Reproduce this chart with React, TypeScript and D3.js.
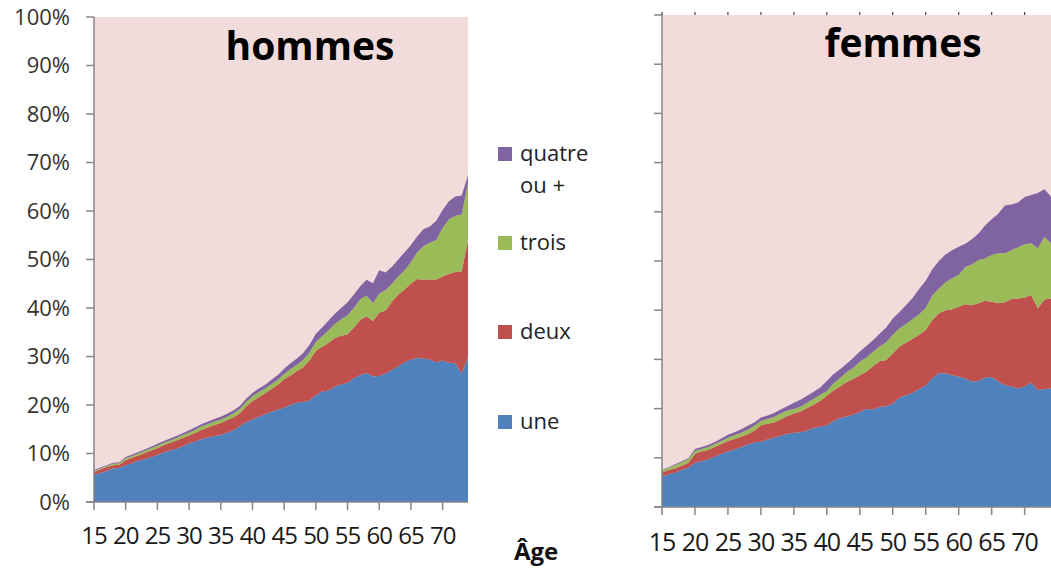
import * as d3 from 'd3'

// ages 15 to 74, one point per year
const ages = d3.range(15, 75)
const tickAges = [15, 20, 25, 30, 35, 40, 45, 50, 55, 60, 65, 70]
const percentTicks = [0, 10, 20, 30, 40, 50, 60, 70, 80, 90, 100]

const seriesKeys = ['une', 'deux', 'trois', 'quatre']
const legendLabels = [['quatre', 'ou +'], ['trois'], ['deux'], ['une']]

// hommes, share of each group in %
const hommesUne = [
  5.6, 6.0, 6.4, 6.9, 7.0, 7.6, 8.0, 8.5, 8.8, 9.3,
  9.7, 10.2, 10.6, 11.0, 11.5, 12.1, 12.5, 13.0, 13.3, 13.6,
  13.8, 14.3, 14.8, 15.6, 16.5, 17.0, 17.6, 18.1, 18.6, 19.0,
  19.5, 20.0, 20.5, 20.6, 21.0, 22.0, 22.8, 23.0, 23.8, 24.3,
  24.6, 25.5, 26.2, 26.6, 25.9, 26.0, 26.5, 27.2, 28.0, 28.8,
  29.4, 29.7, 29.6, 29.4, 28.8, 29.2, 28.7, 28.6, 26.5, 29.8,
]
const hommesDeux = [
  0.6, 0.7, 0.8, 0.7, 0.7, 1.0, 1.1, 1.1, 1.3, 1.3,
  1.4, 1.5, 1.6, 1.7, 1.7, 1.6, 1.8, 1.9, 2.1, 2.3,
  2.5, 2.6, 2.7, 2.7, 3.2, 3.8, 4.0, 4.3, 4.7, 5.2,
  5.8, 6.1, 6.5, 7.2, 8.2, 9.2, 9.2, 9.8, 10.0, 10.0,
  10.0, 10.5, 11.4, 11.7, 11.4, 13.0, 13.0, 14.1, 14.8, 15.0,
  15.6, 16.3, 16.2, 16.5, 17.1, 17.3, 18.3, 18.8, 21.1, 24.2,
]
const hommesTrois = [
  0.2, 0.2, 0.2, 0.3, 0.3, 0.4, 0.4, 0.4, 0.4, 0.5,
  0.5, 0.5, 0.5, 0.5, 0.6, 0.6, 0.6, 0.7, 0.7, 0.7,
  0.7, 0.7, 0.8, 0.9, 0.9, 1.0, 1.1, 1.0, 1.0, 1.0,
  1.1, 1.3, 1.3, 1.5, 1.7, 1.8, 2.2, 2.6, 2.9, 3.4,
  3.9, 4.0, 4.2, 4.3, 3.7, 4.0, 4.2, 3.7, 3.7, 4.0,
  4.5, 5.5, 7.0, 7.6, 8.1, 10.0, 11.3, 11.6, 11.7, 11.8,
]
const hommesQuatre = [
  0.2, 0.2, 0.2, 0.2, 0.2, 0.3, 0.3, 0.3, 0.3, 0.3,
  0.4, 0.4, 0.4, 0.4, 0.4, 0.5, 0.5, 0.5, 0.5, 0.5,
  0.6, 0.6, 0.6, 0.6, 0.7, 0.7, 0.7, 0.8, 0.9, 1.0,
  1.1, 1.2, 1.3, 1.4, 1.5, 1.7, 1.8, 2.0, 2.1, 2.3,
  2.7, 2.8, 2.7, 3.2, 4.1, 4.8, 3.6, 3.5, 3.5, 3.7,
  3.5, 3.3, 3.5, 3.3, 4.0, 3.7, 3.7, 4.0, 3.9, 1.5,
]

// femmes
const femmesUne = [
  6.2, 6.6, 7.0, 7.5, 8.0, 9.0, 9.3, 9.7, 10.2, 10.8,
  11.3, 11.7, 12.2, 12.7, 13.1, 13.3, 13.7, 14.1, 14.5, 14.9,
  15.1, 15.2, 15.5, 16.1, 16.3, 16.6, 17.5, 18.1, 18.4, 18.8,
  19.3, 19.9, 19.8, 20.3, 20.5, 21.0, 22.2, 22.7, 23.2, 24.0,
  24.7, 26.2, 27.2, 27.2, 26.8, 26.5, 26.1, 25.5, 25.6, 26.3,
  26.4, 25.5, 24.8, 24.5, 24.1, 24.5, 25.3, 23.8, 24.0, 24.1,
]
const femmesDeux = [
  0.8, 0.9, 0.9, 0.9, 1.0, 1.8, 2.0, 1.9, 2.0, 2.0,
  2.1, 2.1, 2.1, 2.1, 2.4, 3.3, 3.2, 3.1, 3.3, 3.6,
  3.9, 4.2, 4.6, 4.7, 5.3, 6.0, 6.2, 6.4, 7.0, 7.2,
  7.5, 7.6, 8.8, 9.3, 9.4, 10.2, 10.4, 10.7, 11.0, 11.0,
  11.3, 11.8, 12.2, 12.8, 13.4, 14.2, 15.1, 15.5, 15.8, 15.6,
  15.3, 15.9, 16.8, 17.8, 18.3, 18.1, 17.8, 16.6, 18.2, 18.3,
]
const femmesTrois = [
  0.5, 0.5, 0.6, 0.7, 0.7, 0.6, 0.5, 0.6, 0.6, 0.6,
  0.7, 0.8, 0.8, 0.9, 1.0, 0.9, 1.0, 1.1, 1.2, 1.1,
  0.9, 1.0, 1.1, 1.2, 1.2, 1.0, 1.4, 1.7, 2.0, 2.3,
  2.7, 2.9, 2.9, 3.0, 3.6, 3.8, 3.7, 3.8, 4.0, 4.2,
  4.5, 5.0, 5.0, 5.7, 6.3, 6.5, 7.6, 8.3, 8.8, 8.6,
  9.5, 10.2, 10.0, 9.9, 10.4, 10.8, 10.5, 12.2, 12.7, 11.2,
]
const femmesQuatre = [
  0.1, 0.1, 0.2, 0.2, 0.2, 0.4, 0.4, 0.4, 0.4, 0.5,
  0.6, 0.6, 0.7, 0.8, 0.7, 0.7, 0.7, 0.8, 0.8, 0.9,
  1.3, 1.4, 1.4, 1.4, 1.5, 2.0, 1.9, 1.8, 1.7, 2.0,
  2.1, 2.3, 2.4, 2.6, 3.0, 3.3, 3.3, 3.8, 4.3, 5.1,
  5.5, 5.3, 5.6, 5.6, 5.7, 5.7, 4.7, 5.1, 5.4, 6.7,
  7.3, 8.0, 9.7, 9.3, 9.1, 9.6, 9.8, 11.2, 9.7, 9.5,
]

const colors = d3.scaleOrdinal<string, string>()
  .domain(seriesKeys)
  .range(['#4F81BD', '#C0504D', '#9BBB59', '#8064A2'])

const bgColor = '#F2DCDB'
const axisColor = '#868686'
const font = '"Open Sans", "Noto Sans", sans-serif'

type Row = { age: number; une: number; deux: number; trois: number; quatre: number }

function buildRows(une: number[], deux: number[], trois: number[], quatre: number[]): Row[] {
  return ages.map((age, i) => ({ age, une: une[i], deux: deux[i], trois: trois[i], quatre: quatre[i] }))
}

interface PanelProps {
  rows: Row[]
  left: number
  right: number
  top: number
  bottom: number
  title: string
  titleX: number
  titleY: number
  showYLabels: boolean
  tickFont: number
  labelBaseline: number
  topTicks?: boolean
}

function Panel({ rows, left, right, top, bottom, title, titleX, titleY, showYLabels, tickFont, labelBaseline, topTicks }: PanelProps) {
  const x = d3.scaleLinear().domain([15, 74]).range([left, right])
  const y = d3.scaleLinear().domain([0, 100]).range([bottom, top])
  const stacked = d3.stack<Row>().keys(seriesKeys)(rows)
  const area = d3
    .area<d3.SeriesPoint<Row>>()
    .x((d) => x(d.data.age))
    .y0((d) => y(d[0]))
    .y1((d) => y(d[1]))

  return (
    <g>
      <rect x={left} y={top} width={right - left} height={bottom - top} fill={bgColor} />
      {stacked.map((s) => (
        <path key={s.key} d={area(s) ?? ''} fill={colors(s.key)} />
      ))}
      <line x1={left} x2={left} y1={top} y2={bottom} stroke={axisColor} strokeWidth={1.5} />
      <line x1={left - 8} x2={right} y1={bottom} y2={bottom} stroke={axisColor} strokeWidth={1.5} />
      {percentTicks.map((t) => (
        <g key={t}>
          <line x1={left - 8} x2={left} y1={y(t)} y2={y(t)} stroke={axisColor} strokeWidth={1.5} />
          {showYLabels && (
            <text x={left - 24} y={y(t)} dy="0.36em" textAnchor="end" fontSize={22} fill="#333" fontFamily={font}>
              {`${t}%`}
            </text>
          )}
        </g>
      ))}
      {tickAges.map((a) => (
        <g key={a}>
          <line x1={x(a)} x2={x(a)} y1={bottom} y2={bottom + 8} stroke={axisColor} strokeWidth={1.5} />
          {topTicks && <line x1={x(a)} x2={x(a)} y1={top - 3} y2={top} stroke="#444" strokeWidth={1.2} />}
          <text x={x(a)} y={labelBaseline} textAnchor="middle" fontSize={tickFont} fill="#1a1a1a" fontFamily={font} letterSpacing={-1}>
            {a}
          </text>
        </g>
      ))}
      <text x={titleX} y={titleY} textAnchor="middle" fontSize={39} fontWeight="bold" fill="#000" fontFamily={font}>
        {title}
      </text>
    </g>
  )
}

function Legend() {
  const ys = [147, 236, 325, 415]
  return (
    <g fontFamily={font} fontSize={22} fill="#222">
      {seriesKeys
        .slice()
        .reverse()
        .map((k, i) => (
          <g key={k}>
            <rect x={498} y={ys[i]} width={14} height={14} fill={colors(k)} />
            {legendLabels[i].map((line, j) => (
              <text key={line} x={520} y={ys[i] + 14 + j * 32}>
                {line}
              </text>
            ))}
          </g>
        ))}
      <text x={514} y={560} fontSize={24} fontWeight="bold" fill="#111">
        Âge
      </text>
    </g>
  )
}

export default function App() {
  const hommes = buildRows(hommesUne, hommesDeux, hommesTrois, hommesQuatre)
  const femmes = buildRows(femmesUne, femmesDeux, femmesTrois, femmesQuatre)
  return (
    <svg width={1051} height={569} style={{ position: 'absolute', left: 0, top: 0, background: '#fff' }}>
      <Panel
        rows={hommes}
        left={94}
        right={468}
        top={17}
        bottom={502}
        title="hommes"
        titleX={310}
        titleY={60}
        showYLabels
        tickFont={24}
        labelBaseline={544}
      />
      <Panel
        rows={femmes}
        left={662}
        right={1051}
        top={15}
        bottom={507}
        title="femmes"
        titleX={903}
        titleY={57}
        showYLabels={false}
        tickFont={25}
        labelBaseline={551}
        topTicks
      />
      <Legend />
    </svg>
  )
}
